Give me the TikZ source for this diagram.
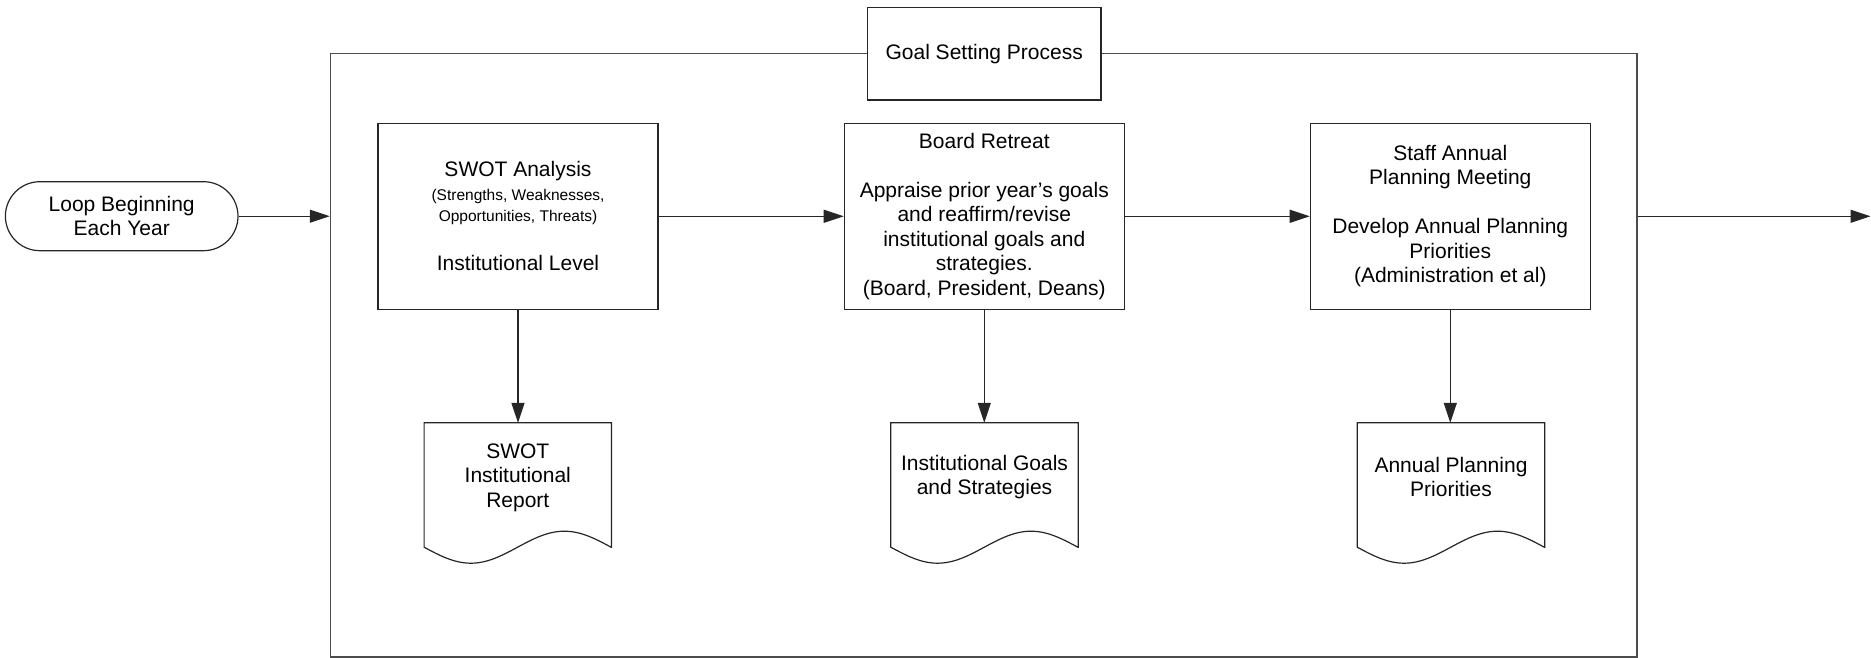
\documentclass[tikz,border=0pt]{standalone}
\usepackage{fontspec}
\setmainfont{Liberation Sans}
\usetikzlibrary{arrows.meta}
\newcommand{\smalltxt}{\fontsize{15.5}{18}\selectfont}
\begin{document}
\begin{tikzpicture}[x=1pt,y=-1pt,
  every node/.style={font=\fontsize{21}{24.5}\selectfont, inner sep=0pt, align=center},
  edgeline/.style={line width=1.2pt, draw=black!85},
  flow/.style={edgeline, -{Triangle[length=20pt,width=13pt]}},
  outerframe/.style={draw=black!70, line width=1.3pt, minimum width=1306.6pt, minimum height=603.7pt},
  procbox/.style={edgeline, minimum width=280pt, minimum height=186pt},
  titlebox/.style={edgeline, fill=white, minimum width=233.5pt, minimum height=92.7pt},
  terminal/.style={edgeline, rounded corners=34.5pt, minimum width=232.6pt, minimum height=69pt},
  docbox/.style={minimum width=187pt, minimum height=124pt}
]
\useasboundingbox (0,0) rectangle (1871,658);

% process frame with its title tab
\node[outerframe] (frame) at (983.7,355.2) {};
\node[titlebox] (title) at (984.2,53.7) {Goal Setting Process};

% start terminal
\node[terminal] (loop) at (121.7,216.2) {Loop Beginning\\Each Year};

% process steps
\node[procbox] (swot) at (518,216.3) {SWOT Analysis\\[-1pt]{\smalltxt (Strengths, Weaknesses,}\\[-3pt]{\smalltxt Opportunities, Threats)}\\[24.5pt]Institutional Level};
\node[procbox] (retreat) at (984.3,216.3) {Board Retreat\\[24.5pt]Appraise prior year’s goals\\and reaffirm/revise\\institutional goals and\\strategies.\\(Board, President, Deans)};
\node[procbox] (staff) at (1450.3,216.3) {Staff Annual\\Planning Meeting\\[24.5pt]Develop Annual Planning\\Priorities\\(Administration et al)};

% output documents
\node[docbox] (swotdoc) at (517.8,485) {};
\node (swotdoctext) at ([yshift=7.5pt]swotdoc.center) {SWOT\\Institutional\\Report};
\node[docbox] (goaldoc) at (984.5,485) {};
\node (goaldoctext) at ([yshift=8pt]goaldoc.center) {Institutional Goals\\and Strategies};
\node[docbox] (plandoc) at (1451,485) {};
\node (plandoctext) at ([yshift=8pt]plandoc.center) {Annual Planning\\Priorities};

\foreach \d in {swotdoc,goaldoc,plandoc}
  \draw[edgeline] (\d.south east) -- (\d.north east) -- (\d.north west) -- (\d.south west)
    sin ++(46.75,16) cos ++(46.75,-16) sin ++(46.75,-16) cos ++(46.75,16) -- cycle;

% connectors
\coordinate (exit) at (1870.5,216.3);
\draw[flow] (loop.east) -- (loop.east -| frame.west);
\draw[flow] (swot.east) -- (retreat.west);
\draw[flow] (retreat.east) -- (staff.west);
\draw[flow] (staff.east -| frame.east) -- (exit);
\draw[flow] (swot.south) -- (swot.south |- swotdoc.north);
\draw[flow] (retreat.south) -- (retreat.south |- goaldoc.north);
\draw[flow] (staff.south) -- (staff.south |- plandoc.north);
\end{tikzpicture}
\end{document}
